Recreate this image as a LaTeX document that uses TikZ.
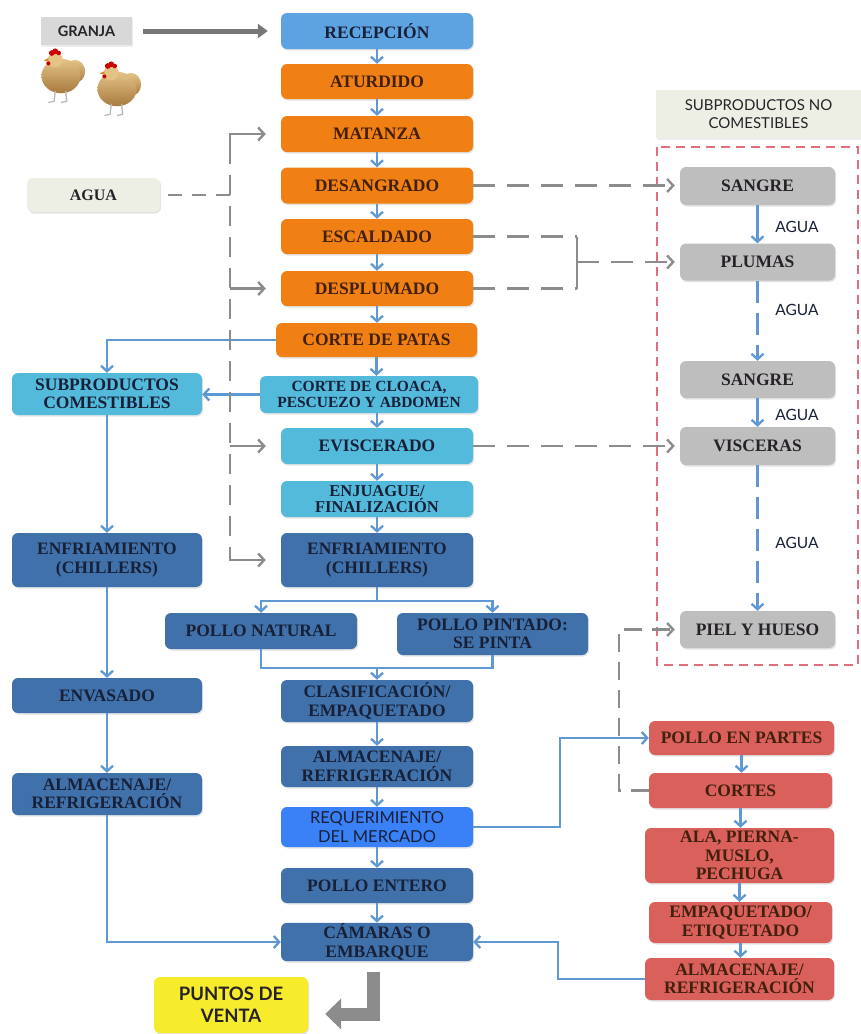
\documentclass[tikz,border=0pt]{standalone}
\usepackage{fontspec}
\setmainfont{Liberation Serif}
\newfontfamily\labelfont{Lato}
\usetikzlibrary{arrows.meta,shadows,calc}

\definecolor{cRec}{RGB}{93,163,226}
\definecolor{cOrange}{RGB}{240,128,20}
\definecolor{cCyan}{RGB}{84,186,220}
\definecolor{cDark}{RGB}{64,113,170}
\definecolor{cReq}{RGB}{58,128,246}
\definecolor{cGrayBox}{RGB}{190,190,190}
\definecolor{cRed}{RGB}{218,96,92}
\definecolor{cYellow}{RGB}{246,236,44}
\definecolor{cGranja}{RGB}{216,216,216}
\definecolor{cBeige}{RGB}{237,239,229}
\definecolor{cArrow}{RGB}{95,152,210}
\definecolor{cGline}{RGB}{140,140,140}
\definecolor{cRedDash}{RGB}{226,110,125}
\definecolor{cTxtOrg}{RGB}{66,32,14}
\definecolor{cTxtBlue}{RGB}{24,32,56}
\definecolor{cTxtDark}{RGB}{38,34,40}
\definecolor{cChickL}{RGB}{228,195,135}
\definecolor{cChickD}{RGB}{168,122,62}

\tikzset{
  base/.style={rounded corners=6pt, align=center, inner sep=1pt,
    font=\bfseries\fontsize{17.5}{18.5}\selectfont,
    drop shadow={shadow xshift=1pt,shadow yshift=-1.5pt,opacity=0.22}},
  recbox/.style={base, fill=cRec, text=cTxtBlue},
  orgbox/.style={base, fill=cOrange, text=cTxtOrg},
  cyanbox/.style={base, fill=cCyan, text=cTxtBlue},
  darkbox/.style={base, fill=cDark, text=cTxtBlue},
  reqbox/.style={base, fill=cReq, text=cTxtBlue, font=\labelfont\fontsize{16.5}{19}\selectfont},
  graybox/.style={base, fill=cGrayBox, text=cTxtDark},
  redbox/.style={base, fill=cRed, text=cTxtOrg},
  flow/.style={draw=cArrow, line width=2.4pt, -{Straight Barb[length=5.5pt,width=12pt,line width=2.3pt]}},
  bline/.style={draw=cArrow, line width=2.4pt},
  bdash/.style={flow, dash pattern=on 22pt off 10pt},
  gdash/.style={draw=cGline, line width=2.7pt, dash pattern=on 22pt off 12pt},
  gsolid/.style={draw=cGline, line width=2.7pt},
  gtip/.style={-{Straight Barb[length=6pt,width=13pt,line width=2.4pt]}},
  agualbl/.style={font=\labelfont\fontsize{15.5}{17}\selectfont, text=cTxtBlue},
  hen/.pic={
    \shade[top color=cChickL, bottom color=cChickD] (12,-4) ellipse (9pt and 10pt);
    \shade[top color=cChickL, bottom color=cChickD] (0,0) ellipse (17pt and 15pt);
    \fill[cChickL] (-5,-14) circle (6.5pt);
    \fill[red!80!black] (-8,-20) circle (2.5pt) (-5,-21.5) circle (2.5pt) (-2,-20) circle (2pt);
    \fill[red!75!black] (-11,-11) circle (1.8pt);
    \fill[orange!60!brown] (-11,-15.5) -- (-15,-13.5) -- (-11,-12.5) -- cycle;
    \draw[gray!55, line width=1.3pt] (-5,13) -- (-6,22) -- (-11,23) (4,13) -- (5,22) -- (0,23);
  }
}

\begin{document}
\begin{tikzpicture}[x=1pt,y=-1pt]
\useasboundingbox (0,0) rectangle (861,1034);

% origin of the birds
\node[fill=cGranja, minimum width=91pt, minimum height=28pt, inner sep=0pt,
      font=\labelfont\bfseries\fontsize{14.5}{16}\selectfont, text=cTxtDark,
      drop shadow={shadow xshift=1pt,shadow yshift=-1.5pt,opacity=0.15}] (granja) at (86.5,31) {GRANJA};
\pic[scale=1.15] at (61,76) {hen};
\pic[scale=1.15] at (117,89) {hen};

% water supply
\node[base, fill=cBeige, text=cTxtDark, minimum width=133pt, minimum height=34pt,
      font=\bfseries\fontsize{16}{18}\selectfont] (agua) at (93.5,195) {AGUA};

% main process line
\node[recbox, minimum width=192pt, minimum height=36pt] (rec) at (377,31) {RECEPCIÓN};
\node[orgbox, minimum width=192pt, minimum height=35pt] (atu) at (377,81.5) {ATURDIDO};
\node[orgbox, minimum width=192pt, minimum height=36pt] (mat) at (377,134) {MATANZA};
\node[orgbox, minimum width=192pt, minimum height=36pt] (des) at (377,185.5) {DESANGRADO};
\node[orgbox, minimum width=192pt, minimum height=35pt] (esc) at (377,236.5) {ESCALDADO};
\node[orgbox, minimum width=192pt, minimum height=35pt] (despl) at (377,288.5) {DESPLUMADO};
\node[orgbox, minimum width=201pt, minimum height=34pt] (patas) at (376.5,340) {CORTE DE PATAS};
\node[cyanbox, minimum width=218pt, minimum height=37pt,
      font=\bfseries\fontsize{15.5}{16.5}\selectfont] (cloaca) at (369,394.5) {CORTE DE CLOACA,\\PESCUEZO Y ABDOMEN};
\node[cyanbox, minimum width=192pt, minimum height=36pt] (evis) at (377,446) {EVISCERADO};
\node[cyanbox, minimum width=192pt, minimum height=36pt,
      font=\bfseries\fontsize{16.5}{16.5}\selectfont] (enj) at (377,499) {ENJUAGUE/\\FINALIZACIÓN};
\node[darkbox, minimum width=192pt, minimum height=54pt] (enf) at (377,560) {ENFRIAMIENTO\\(CHILLERS)};
\node[darkbox, minimum width=192pt, minimum height=36pt] (nat) at (261,631) {POLLO NATURAL};
\node[darkbox, minimum width=191pt, minimum height=42pt] (pint) at (492.5,634) {POLLO PINTADO:\\SE PINTA};
\node[darkbox, minimum width=192pt, minimum height=42pt] (clas) at (377,701) {CLASIFICACIÓN/\\EMPAQUETADO};
\node[darkbox, minimum width=192pt, minimum height=41pt] (alm) at (377,766.5) {ALMACENAJE/\\REFRIGERACIÓN};
\node[reqbox, minimum width=192pt, minimum height=40pt] (req) at (377,827) {REQUERIMIENTO\\DEL MERCADO};
\node[darkbox, minimum width=192pt, minimum height=35pt] (ent) at (377,885.5) {POLLO ENTERO};
\node[darkbox, minimum width=192pt, minimum height=38pt] (cam) at (377,942) {CÁMARAS O\\EMBARQUE};
\node[base, fill=cYellow, text=cTxtDark, minimum width=154pt, minimum height=56pt,
      font=\labelfont\bfseries\fontsize{18.5}{22}\selectfont] (puntos) at (231,1005) {PUNTOS DE\\VENTA};

% edible by-products
\node[cyanbox, minimum width=190pt, minimum height=42pt] (subc) at (107,394) {SUBPRODUCTOS\\COMESTIBLES};
\node[darkbox, minimum width=190pt, minimum height=54pt] (enfl) at (107,560) {ENFRIAMIENTO\\(CHILLERS)};
\node[darkbox, minimum width=190pt, minimum height=35pt] (env) at (107,695.5) {ENVASADO};
\node[darkbox, minimum width=190pt, minimum height=42pt] (alml) at (107,794) {ALMACENAJE/\\REFRIGERACIÓN};

% cut parts
\node[redbox, minimum width=185pt, minimum height=34pt] (partes) at (741.5,738) {POLLO EN PARTES};
\node[redbox, minimum width=183pt, minimum height=35pt] (cortes) at (740.5,790.5) {CORTES};
\node[redbox, minimum width=189pt, minimum height=55pt] (ala) at (739.5,855.5) {ALA, PIERNA-\\MUSLO,\\PECHUGA};
\node[redbox, minimum width=183pt, minimum height=41pt] (empe) at (740.5,922.5) {EMPAQUETADO/\\ETIQUETADO};
\node[redbox, minimum width=189pt, minimum height=42pt] (almr) at (739.5,979) {ALMACENAJE/\\REFRIGERACIÓN};

% inedible by-products
\node[fill=cBeige, minimum width=205pt, minimum height=48pt, inner sep=0pt, align=center,
      font=\labelfont\fontsize{15}{18}\selectfont, text=cTxtDark,
      drop shadow={shadow xshift=1pt,shadow yshift=-1.5pt,opacity=0.15}] (subnc) at (758.5,114) {SUBPRODUCTOS NO\\COMESTIBLES};
\draw[cRedDash, line width=1.6pt, dash pattern=on 9pt off 6pt] (657,147) rectangle (858,665);
\node[graybox, minimum width=155pt, minimum height=38pt] (sang1) at (757.5,186) {SANGRE};
\node[graybox, minimum width=155pt, minimum height=37pt] (plum) at (757.5,262) {PLUMAS};
\node[graybox, minimum width=155pt, minimum height=37pt] (sang2) at (757.5,379.5) {SANGRE};
\node[graybox, minimum width=155pt, minimum height=38pt] (visc) at (757.5,446) {VISCERAS};
\node[graybox, minimum width=155pt, minimum height=37pt] (piel) at (757.5,629.5) {PIEL Y HUESO};

\node[agualbl] (ag1) at (797,227) {AGUA};
\node[agualbl] (ag2) at (797,310) {AGUA};
\node[agualbl] (ag3) at (797,415) {AGUA};
\node[agualbl] (ag4) at (797,543) {AGUA};

% main flow
\foreach \a/\b in {rec/atu, atu/mat, mat/des, des/esc, esc/despl, despl/patas,
                   patas/cloaca, evis/enj, enj/enf, clas/alm, alm/req, req/ent, ent/cam,
                   subc/enfl, enfl/env, env/alml,
                   partes/cortes, cortes/ala, ala/empe, empe/almr}
  \draw[flow] (\a.south) -- (\a.south |- \b.north);
\draw[flow] (cloaca.south -| evis) -- (evis.north);
\draw[flow] (sang1) -- (plum);
\draw[bdash] (plum) -- (sang2);
\draw[flow] (sang2) -- (visc);
\draw[bdash] (visc) -- (piel);

\draw[flow] (patas.west) -| (subc.north);
\draw[flow] (cloaca.west) -- (cloaca.west -| subc.east);
\draw[flow] (alml.south) |- (cam.west);

\coordinate (split) at (377,601);
\coordinate (merge) at (377,668);
\draw[bline] (enf.south) -- (split);
\draw[flow] (split) -| (nat.north);
\draw[flow] (split) -| (pint.north);
\draw[bline] (nat.south) |- (merge);
\draw[bline] (pint.south) |- (merge);
\draw[flow] (merge) -- (clas.north);

\coordinate (rj) at (560,0);
\coordinate (aj) at (558,0);
\draw[flow] (req.east) -- (req.east -| rj) |- (partes.west);
\draw[flow] (almr.west) -- (almr.west -| aj) |- (cam.east);

% farm to reception
\draw[cGline!85!black, line width=5pt, shorten <=11pt, shorten >=13pt,
      -{Triangle[length=10pt,width=14pt]}] (granja.east) -- (granja.east -| rec.west);

% water distribution
\coordinate (wj) at (230,195);
\coordinate (wt) at (230,134);
\coordinate (wb) at (230,560);
\draw[gdash, dash pattern=on 14pt off 10pt, shorten <=8pt] (agua.east) -- (wj);
\draw[gdash, dash pattern=on 20pt off 11pt] ($(wt)+(0,10)$) -- ($(wb)+(0,-10)$);
\draw[gsolid, gtip, shorten >=15pt] ($(wt)+(0,12)$) |- (mat.west);
\draw[gsolid, gtip, shorten >=15pt] (wt |- despl) -- (despl.west);
\draw[gsolid, gtip, shorten >=15pt] (wt |- evis) -- (evis.west);
\draw[gsolid, gtip, shorten >=15pt] ($(wb)+(0,-12)$) |- (enf.west);

% inedible flows
\coordinate (jx) at (577,0);
\draw[gdash, gtip, shorten >=5pt] (des.east) -- (des.east -| sang1.west);
\draw[gdash] (esc.east) -- (esc.east -| jx);
\draw[gdash] (despl.east) -- (despl.east -| jx);
\draw[gsolid] (esc.east -| jx) -- (despl.east -| jx);
\draw[gdash, gtip, shorten >=5pt] (jx |- plum) -- (plum.west);
\draw[gdash, gtip, shorten >=5pt] (evis.east) -- (evis.east -| visc.west);
\coordinate (pj) at (619,0);
\draw[gdash, gtip, shorten >=5pt, dash pattern=on 18pt off 10pt] (cortes.west) -- (cortes.west -| pj) |- (piel.west);

% to points of sale
\coordinate (pa) at (373,972);
\draw[cGline, line width=13pt, shorten >=17pt, -{Triangle[length=16pt,width=30pt]}]
  (pa) |- ($(puntos.east)+(0,9)$);
\end{tikzpicture}
\end{document}
